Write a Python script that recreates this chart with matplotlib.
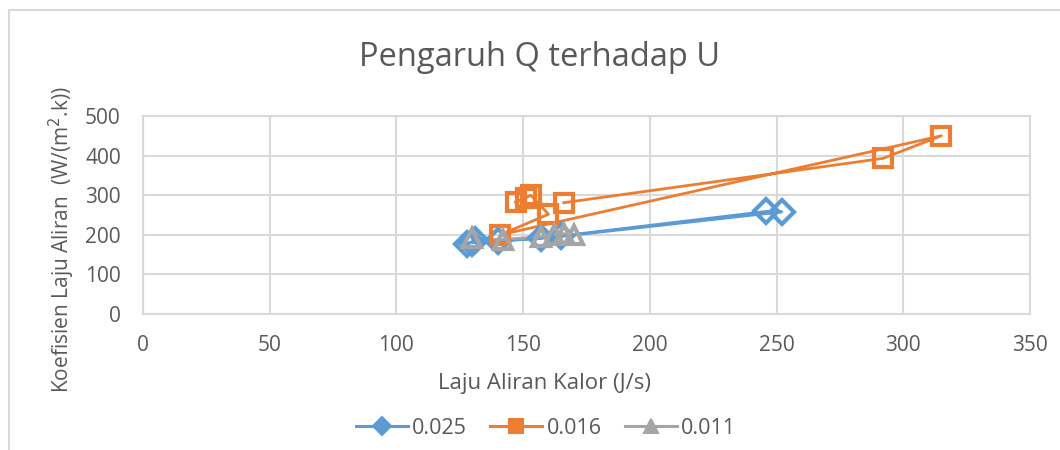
import matplotlib
matplotlib.use("Agg")
import matplotlib.pyplot as plt
from matplotlib.patches import Rectangle
from matplotlib.lines import Line2D

plt.rcParams['font.family'] = ['Open Sans', 'DejaVu Sans']

title = "Pengaruh Q terhadap U"
xlabel = "Laju Aliran Kalor (J/s)"
ylabel = "Koefisien Laju Aliran  (W/(m$^{2}$.k))"

series_names = ["0.025", "0.016", "0.011"]

q_025 = [128, 131, 140, 157, 246, 252, 165, 130]
u_025 = [178, 186, 184, 191, 259, 258, 196, 180]

q_016 = [147, 151, 153, 160, 141, 315, 292, 166]
u_016 = [283, 293, 300, 252, 200, 450, 393, 281]

q_011 = [130, 142, 157, 162, 166, 170]
u_011 = [191, 188, 195, 200, 203, 200]

colors = ["#5b9bd5", "#ed7d31", "#a5a5a5"]
markers = ["D", "s", "^"]
msizes = [12.5, 13.5, 13.5]

xticks = [0, 50, 100, 150, 200, 250, 300, 350]
yticks = [0, 100, 200, 300, 400, 500]

W, H = 1060, 450
fig = plt.figure(figsize=(W / 100, H / 100), dpi=100)
fig.patch.set_facecolor("white")

# chart area border
fig.add_artist(Rectangle((9 / W, -0.02), 1.1, 1 - 10 / H + 0.02, transform=fig.transFigure,
                         fill=False, edgecolor="#d9d9d9", lw=1.5))

ax = fig.add_axes([143 / W, 1 - 314 / H, (1030 - 143) / W, (314 - 116) / H])
ax.set_xlim(0, 350)
ax.set_ylim(0, 500)
ax.set_xticks(xticks)
ax.set_yticks(yticks)
ax.grid(True, color="#d9d9d9", lw=1.5)
ax.set_axisbelow(True)
for s in ax.spines.values():
    s.set_color("#d9d9d9")
    s.set_linewidth(1.5)
ax.tick_params(length=0, labelsize=15, labelcolor="#595959")
ax.tick_params(axis="y", pad=16)
ax.tick_params(axis="x", pad=15)

data = [(q_025, u_025), (q_016, u_016), (q_011, u_011)]
handles = []
for (xs, ys), name, c, m, ms in zip(data, series_names, colors, markers, msizes):
    ax.plot(xs, ys, color=c, lw=2.0, zorder=3)
    ax.plot(xs, ys, ls="none", marker=m, ms=ms, mfc="none", mec=c, mew=3, zorder=4)
    handles.append(Line2D([0], [0], color=c, lw=2.2, marker=m, ms=10 if m != "D" else 9,
                          mfc=c, mec=c, mew=1.5, label=name))

fig.text(540 / W, 1 - 57 / H, title, ha="center", va="center", fontsize=23.5, color="#595959")
fig.text(545 / W, 1 - 384 / H, xlabel, ha="center", va="center", fontsize=16, color="#595959")
fig.text(62 / W, 1 - 240 / H, ylabel, ha="center", va="center", rotation=90,
         fontsize=15, color="#595959")

fig.legend(handles=handles, loc="center", bbox_to_anchor=(546 / W, 1 - 428 / H), ncol=3,
           frameon=False, fontsize=15.5, labelcolor="#595959", handlelength=2.4,
           columnspacing=1.1, handletextpad=0.2)

fig.savefig("out.png", dpi=100, facecolor="white")
